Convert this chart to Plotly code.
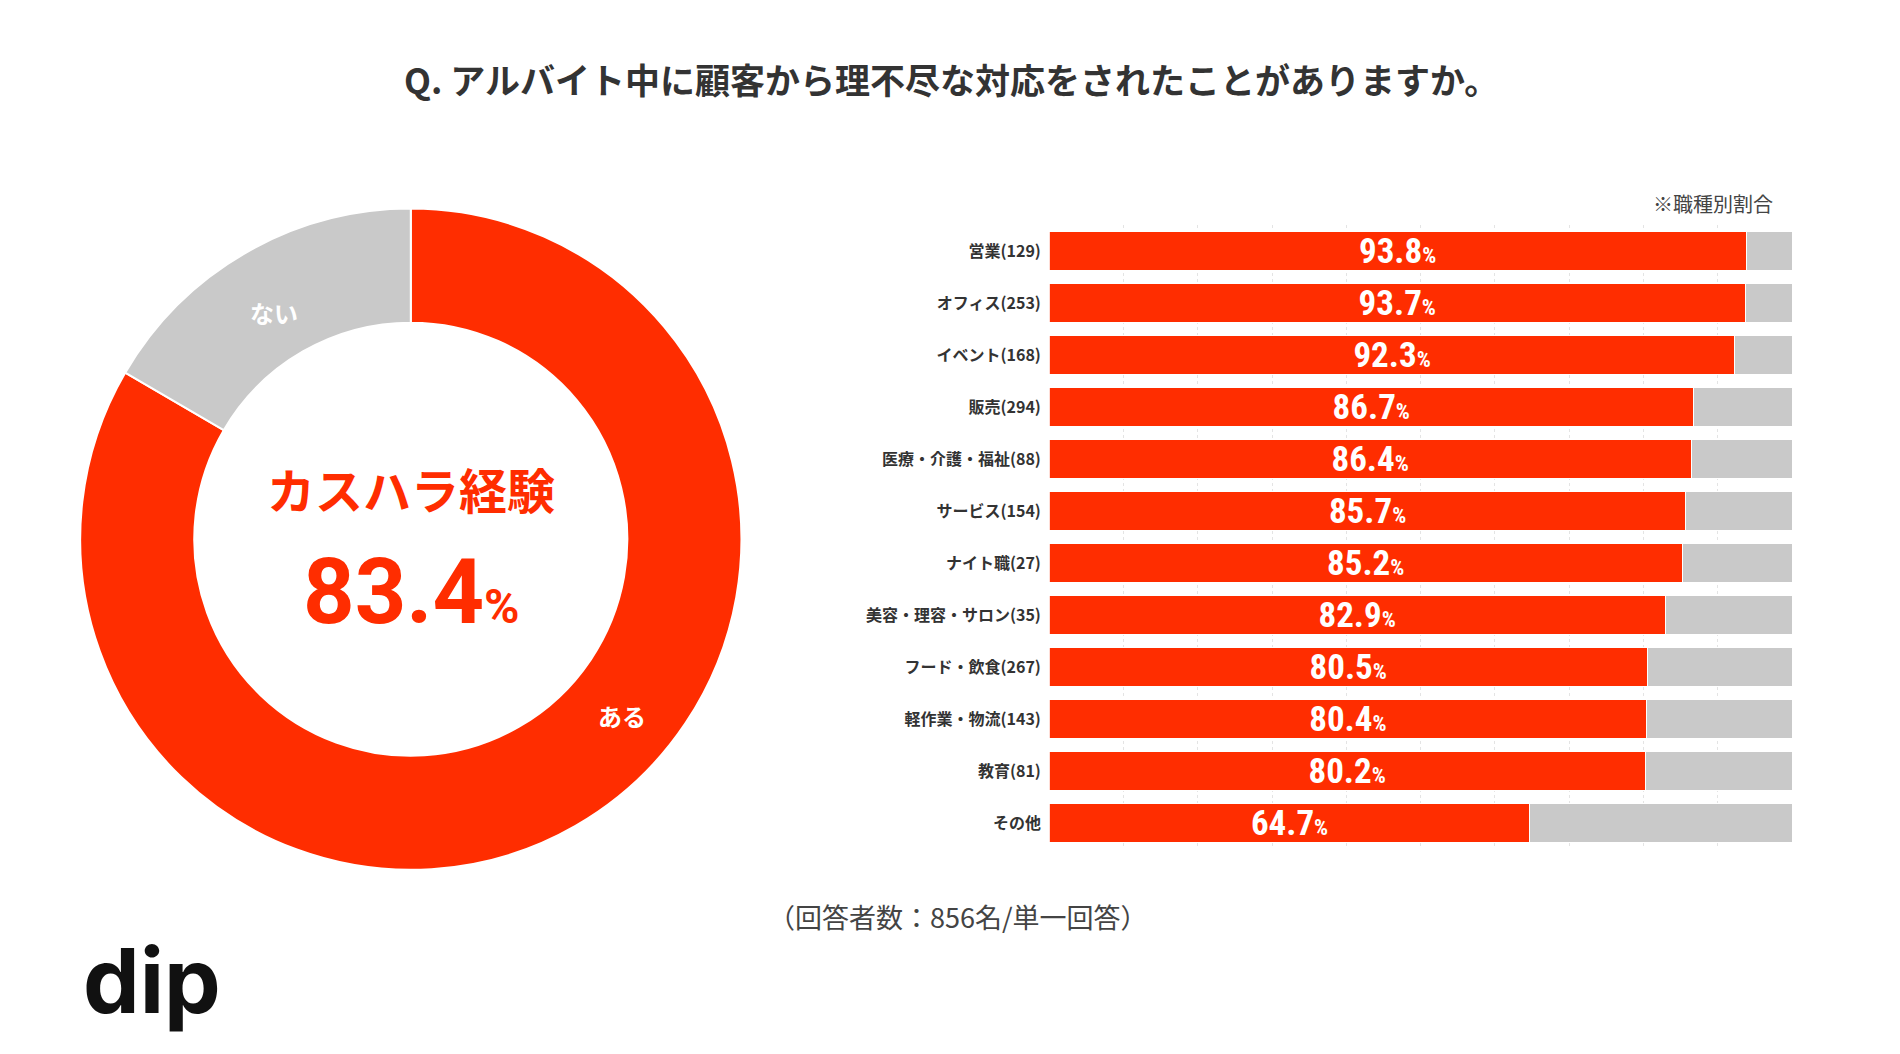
import plotly.graph_objects as go

categories = ["営業(129)", "オフィス(253)", "イベント(168)", "販売(294)", "医療・介護・福祉(88)", "サービス(154)",
              "ナイト職(27)", "美容・理容・サロン(35)", "フード・飲食(267)", "軽作業・物流(143)", "教育(81)", "その他"]
yes_values = [93.8, 93.7, 92.3, 86.7, 86.4, 85.7, 85.2, 82.9, 80.5, 80.4, 80.2, 64.7]
no_values = [round(100 - v, 1) for v in yes_values]
pie_labels = ["ある", "ない"]
pie_values = [83.4, 16.6]

RED = "#FF2D00"
GRAY = "#C9C9C9"
FONT = "Noto Sans CJK JP"

fig = go.Figure()
fig.add_trace(go.Pie(labels=pie_labels, values=pie_values, hole=0.655, sort=False, direction="clockwise",
                     rotation=0, marker=dict(colors=[RED, GRAY], line=dict(color="white", width=2)),
                     textinfo="none", hoverinfo="label+value", showlegend=False,
                     domain=dict(x=[0.038, 0.386], y=[0.182, 0.81])))

fig.add_trace(go.Bar(y=categories, x=yes_values, orientation="h", marker=dict(color=RED, line=dict(color="white", width=1)),
                     text=[f"<b>{v}<span style='font-size:22px'>%</span></b>" for v in yes_values],
                     textposition="inside", insidetextanchor="middle", constraintext="none",
                     insidetextfont=dict(color="white", size=35, family="Roboto Condensed, Roboto, " + FONT),
                     showlegend=False, width=0.74))
fig.add_trace(go.Bar(y=categories, x=no_values, orientation="h", marker=dict(color=GRAY, line=dict(color="white", width=1)),
                     textposition="none", showlegend=False, width=0.74))

def ann(text, x, y, size, color, family=FONT, xanchor="center"):
    return dict(text=text, x=x / 1900, y=1 - y / 1054, xref="paper", yref="paper", xanchor=xanchor,
                yanchor="middle", showarrow=False, font=dict(size=size, color=color, family=family))

fig.update_layout(
    barmode="stack", width=1900, height=1054, margin=dict(l=0, r=0, t=0, b=0),
    paper_bgcolor="white", plot_bgcolor="white", font=dict(family=FONT),
    xaxis=dict(domain=[0.548, 0.939], range=[0, 100], dtick=10, showgrid=True, gridcolor="#E4E4E4",
               griddash="dot", showticklabels=False, zeroline=False),
    yaxis=dict(domain=[0.202, 0.794], autorange="reversed", showgrid=False,
               tickfont=dict(size=16, color="#333", family=FONT, weight="bold"), ticksuffix="  "),
    annotations=[
        ann("<b>Q. アルバイト中に顧客から理不尽な対応をされたことがありますか。</b>", 943, 70, 35, "#333"),
        ann("※職種別割合", 1767, 196, 20, "#444", xanchor="right"),
        ann("<b>カスハラ経験</b>", 403, 480, 48, RED),
        ann("<b>83.4<span style='font-size:48px'>%</span></b>", 403, 584, 90, RED, family="Roboto, " + FONT),
        ann("<b>ある</b>", 614, 707, 24, "white"),
        ann("<b>ない</b>", 266, 304, 24, "white"),
        ann("（回答者数：856名/単一回答）", 950, 908, 27, "#444"),
        ann("<b>dip</b>", 144, 972, 90, "#111", family="Inter, " + FONT),
    ],
)
fig.write_html("out.html")
